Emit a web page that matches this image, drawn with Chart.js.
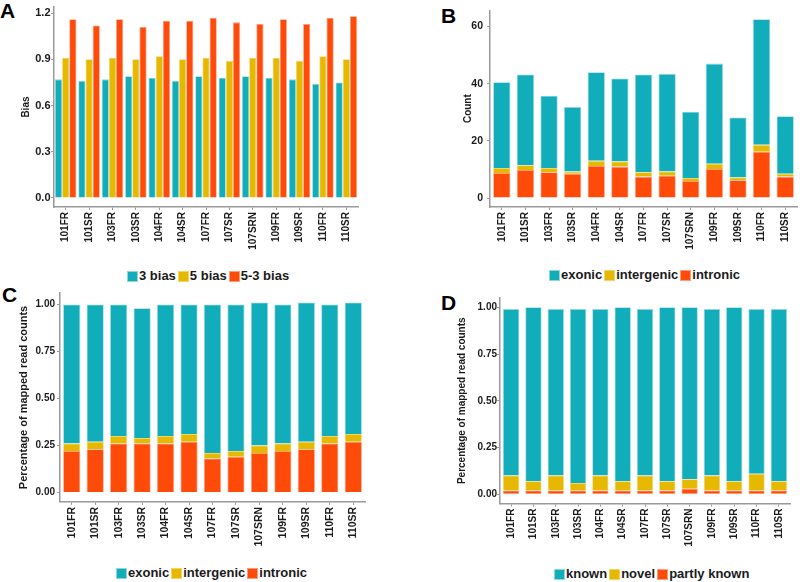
<!DOCTYPE html>
<html>
<head>
<meta charset="utf-8">
<script src="https://cdn.jsdelivr.net/npm/chart.js@4.4.0/dist/chart.umd.min.js"></script>
<style>
body { margin: 0; background: #fff; width: 800px; height: 582px; position: relative; overflow: hidden; font-family: "Liberation Sans", Arial, sans-serif; }
.panel { position: absolute; }
.letter { position: absolute; font-weight: bold; font-size: 21px; line-height: 21px; color: #000; }
.legend { position: absolute; display: flex; align-items: center; font-weight: bold; font-size: 13px; line-height: 14px; color: #1a1a1a; white-space: nowrap; }
.legend .item { display: flex; align-items: center; margin-right: 2px; }
.legend .box { display: inline-block; width: 11px; height: 11px; margin-right: 1px; box-sizing: border-box; border: 1px solid; }
</style>
</head>
<body>
<div class="letter" style="left:0px;top:0px">A</div>
<div class="letter" style="left:441px;top:5px">B</div>
<div class="letter" style="left:2px;top:284px">C</div>
<div class="letter" style="left:441px;top:292px">D</div>

<div class="panel" style="left:0px;top:0px;width:400px;height:260px"><canvas id="chartA"></canvas></div>
<div class="panel" style="left:400px;top:0px;width:400px;height:260px"><canvas id="chartB"></canvas></div>
<div class="panel" style="left:0px;top:285px;width:400px;height:270px"><canvas id="chartC"></canvas></div>
<div class="panel" style="left:400px;top:285px;width:400px;height:270px"><canvas id="chartD"></canvas></div>

<div class="legend" id="legendA" style="left:127px;top:269px"></div>
<div class="legend" id="legendB" style="left:549px;top:268px"></div>
<div class="legend" id="legendC" style="left:116px;top:566px"></div>
<div class="legend" id="legendD" style="left:554px;top:567px"></div>

<script>
const samples = ['101FR', '101SR', '103FR', '103SR', '104FR', '104SR', '107FR', '107SR', '107SRN', '109FR', '109SR', '110FR', '110SR'];

// A - bias
const bias3  = [0.77, 0.76, 0.77, 0.79, 0.78, 0.76, 0.79, 0.78, 0.79, 0.78, 0.77, 0.74, 0.75];
const bias5  = [0.91, 0.90, 0.91, 0.90, 0.92, 0.90, 0.91, 0.89, 0.91, 0.91, 0.89, 0.92, 0.90];
const bias53 = [1.16, 1.12, 1.16, 1.11, 1.15, 1.15, 1.17, 1.14, 1.13, 1.16, 1.13, 1.17, 1.18];
const biasTicks = [0, 0.3, 0.6, 0.9, 1.2];

// B - counts
const countIntronic   = [8.8, 9.8, 9.0, 8.5, 11.2, 11.0, 7.5, 7.8, 6.0, 10.2, 6.2, 16.2, 7.5];
const countIntergenic = [1.7, 1.7, 1.5, 0.8, 1.8, 1.8, 1.5, 1.5, 1.0, 1.8, 1.0, 2.4, 1.0];
const countExonic     = [30.0, 31.7, 25.3, 22.5, 31.0, 29.0, 34.2, 34.1, 23.2, 35.0, 21.0, 43.9, 20.1];
const countTicks = [0, 20, 40, 60];

// C - read fraction by region
const pctIntronic   = [0.22, 0.23, 0.26, 0.26, 0.26, 0.27, 0.18, 0.19, 0.21, 0.22, 0.23, 0.26, 0.27];
const pctIntergenic = [0.04, 0.04, 0.04, 0.03, 0.04, 0.04, 0.03, 0.03, 0.04, 0.04, 0.04, 0.04, 0.04];
const pctExonic     = [0.74, 0.73, 0.70, 0.69, 0.70, 0.69, 0.79, 0.78, 0.76, 0.74, 0.74, 0.70, 0.70];

// D - read fraction by annotation
const pctPartly = [0.02, 0.02, 0.02, 0.02, 0.02, 0.02, 0.02, 0.02, 0.03, 0.02, 0.02, 0.02, 0.02];
const pctNovel  = [0.08, 0.05, 0.08, 0.04, 0.08, 0.05, 0.08, 0.05, 0.05, 0.08, 0.05, 0.09, 0.05];
const pctKnown  = [0.89, 0.93, 0.89, 0.93, 0.89, 0.93, 0.89, 0.93, 0.92, 0.89, 0.93, 0.88, 0.92];
const pctTicks = [0, 0.25, 0.5, 0.75, 1];

const TEAL = '#12adba', TEAL_EDGE = '#8fd6dd';
const GOLD = '#e6b800', GOLD_EDGE = '#f2d56a';
const RED = '#ff4b0a', RED_EDGE = '#ff9b7a';
const AXIS = '#9a9a9a';
const TXT = '#1a1a1a';

function ds(label, data, color, edge) {
    return { label: label, data: data, backgroundColor: color, borderColor: edge, borderWidth: 0.8 };
}

function makeChart(id, o) {
    new Chart(document.getElementById(id), {
        type: 'bar',
        data: { labels: samples, datasets: o.datasets },
        options: {
            responsive: true,
            maintainAspectRatio: false,
            animation: false,
            layout: { padding: o.padding },
            datasets: { bar: { categoryPercentage: o.catPct, barPercentage: o.barPct } },
            plugins: { legend: { display: false }, tooltip: { enabled: false } },
            scales: {
                x: {
                    stacked: o.stacked,
                    grid: { drawOnChartArea: false, offset: false, tickLength: 3, color: AXIS, lineWidth: 1 },
                    border: { color: AXIS, width: 1.5 },
                    ticks: { autoSkip: false, minRotation: 90, maxRotation: 90, padding: 2, color: TXT,
                             font: { family: 'Liberation Sans', weight: 'bold', size: o.xTickSize } },
                    afterFit: s => { s.height = o.xHeight; }
                },
                y: {
                    stacked: o.stacked,
                    min: o.yMin,
                    max: o.yMax,
                    grid: { drawOnChartArea: false, tickLength: 3, color: AXIS, lineWidth: 1 },
                    border: { color: AXIS, width: 1.5 },
                    ticks: { padding: o.yTickPad, color: TXT,
                             font: { family: 'Liberation Sans', weight: 'bold', size: o.yTickSize },
                             callback: v => v.toFixed(o.decimals) },
                    afterBuildTicks: s => { s.ticks = o.ticks.map(v => ({ value: v })); },
                    title: { display: true, text: o.title, color: TXT, padding: { top: o.titlePad, bottom: 0 },
                             font: { family: 'Liberation Sans', weight: 'bold', size: o.titleSize } },
                    afterFit: s => { s.width = o.yWidth; }
                }
            }
        }
    });
}

function makeLegend(id, items) {
    const el = document.getElementById(id);
    items.forEach(it => {
        const d = document.createElement('span');
        d.className = 'item';
        const b = document.createElement('span');
        b.className = 'box';
        b.style.background = it[1];
        b.style.borderColor = it[2];
        d.appendChild(b);
        d.appendChild(document.createTextNode(it[0]));
        el.appendChild(d);
    });
}

// A: grouped bars
makeChart('chartA', {
    datasets: [ds('3 bias', bias3, TEAL, TEAL_EDGE), ds('5 bias', bias5, GOLD, GOLD_EDGE), ds('5-3 bias', bias53, RED, RED_EDGE)],
    stacked: false, catPct: 0.92, barPct: 1.0,
    padding: { top: 6, right: 42, left: 0, bottom: 0 },
    yMin: -0.059, yMax: 1.239, ticks: biasTicks, decimals: 1,
    title: 'Bias', titleSize: 10, titlePad: 20.5,
    yWidth: 54, xHeight: 53, xTickSize: 10, yTickSize: 11, yTickPad: 0.5
});

// B: stacked counts
makeChart('chartB', {
    datasets: [ds('intronic', countIntronic, RED, RED_EDGE), ds('intergenic', countIntergenic, GOLD, GOLD_EDGE), ds('exonic', countExonic, TEAL, TEAL_EDGE)],
    stacked: true, catPct: 1.0, barPct: 0.73,
    padding: { top: 5.5, right: 3, left: 0, bottom: 0 },
    yMin: -3.125, yMax: 65.625, ticks: countTicks, decimals: 0,
    title: 'Count', titleSize: 10, titlePad: 62,
    yWidth: 90, xHeight: 53, xTickSize: 10, yTickSize: 10.5, yTickPad: 4
});

// C: stacked fractions by region
makeChart('chartC', {
    datasets: [ds('intronic', pctIntronic, RED, RED_EDGE), ds('intergenic', pctIntergenic, GOLD, GOLD_EDGE), ds('exonic', pctExonic, TEAL, TEAL_EDGE)],
    stacked: true, catPct: 1.0, barPct: 0.73,
    padding: { top: 6.2, right: 35, left: 0, bottom: 0 },
    yMin: -0.0505, yMax: 1.0605, ticks: pctTicks, decimals: 2,
    title: 'Percentage of mapped read counts', titleSize: 11, titlePad: 17,
    yWidth: 60, xHeight: 53.1, xTickSize: 10.5, yTickSize: 10, yTickPad: 2
});

// D: stacked fractions by annotation
makeChart('chartD', {
    datasets: [ds('partly known', pctPartly, RED, RED_EDGE), ds('novel', pctNovel, GOLD, GOLD_EDGE), ds('known', pctKnown, TEAL, TEAL_EDGE)],
    stacked: true, catPct: 1.0, barPct: 0.73,
    padding: { top: 12.9, right: 10, left: 0, bottom: 0 },
    yMin: -0.05, yMax: 1.05, ticks: pctTicks, decimals: 2,
    title: 'Percentage of mapped read counts', titleSize: 10, titlePad: 56.5,
    yWidth: 100, xHeight: 51.4, xTickSize: 10, yTickSize: 10, yTickPad: 0
});

makeLegend('legendA', [['3 bias', TEAL, TEAL_EDGE], ['5 bias', GOLD, GOLD_EDGE], ['5-3 bias', RED, RED_EDGE]]);
makeLegend('legendB', [['exonic', TEAL, TEAL_EDGE], ['intergenic', GOLD, GOLD_EDGE], ['intronic', RED, RED_EDGE]]);
makeLegend('legendC', [['exonic', TEAL, TEAL_EDGE], ['intergenic', GOLD, GOLD_EDGE], ['intronic', RED, RED_EDGE]]);
makeLegend('legendD', [['known', TEAL, TEAL_EDGE], ['novel', GOLD, GOLD_EDGE], ['partly known', RED, RED_EDGE]]);
</script>
</body>
</html>
